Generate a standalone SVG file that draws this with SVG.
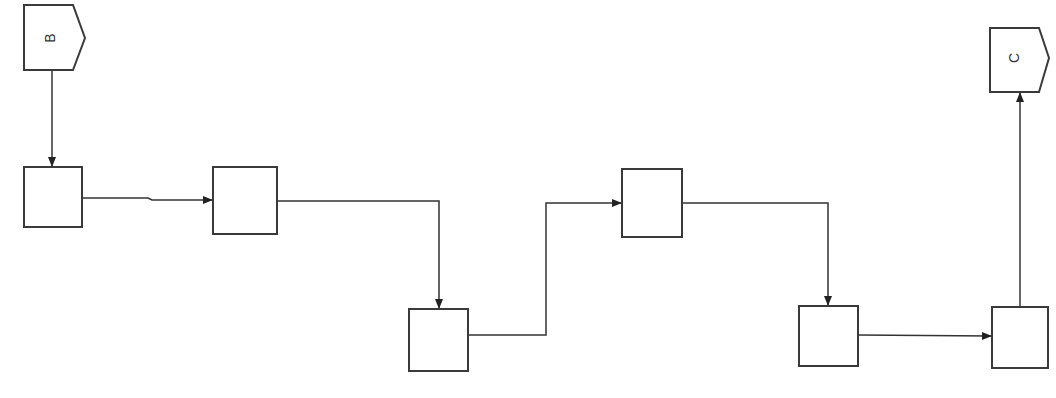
<svg xmlns="http://www.w3.org/2000/svg" width="1056" height="398" viewBox="0 0 1056 398">
<style>
.box{fill:#fff;stroke:#3a3a3a;stroke-width:2}
.ln{fill:none;stroke:#333;stroke-width:1.5}
.lbl{font-family:"Liberation Sans",Arial,sans-serif;font-size:14px;fill:#333}
</style>
<defs>
<marker id="ah" markerWidth="10" markerHeight="10" refX="9" refY="5" orient="auto" markerUnits="userSpaceOnUse">
<path d="M0,1 L10,5 L0,9 Z" fill="#222"/>
</marker>
</defs>
<rect width="1056" height="398" fill="#fff"/>
<g id="connectors">
<path class="ln" d="M52,70 V166" marker-end="url(#ah)"/>
<path class="ln" d="M82,198 H148 L152,200 H212" marker-end="url(#ah)"/>
<path class="ln" d="M277,201 H439 V308" marker-end="url(#ah)"/>
<path class="ln" d="M468,335 H546 V203 H621" marker-end="url(#ah)"/>
<path class="ln" d="M682,203 H828 V305" marker-end="url(#ah)"/>
<path class="ln" d="M858,335 L991,336" marker-end="url(#ah)"/>
<path class="ln" d="M1020,307 V93" marker-end="url(#ah)"/>
</g>
<g id="B">
<path class="box" d="M24,5 H73 L85,38 L73,70 H24 Z"/>
<text class="lbl" x="0" y="0" text-anchor="middle" transform="translate(50,38) rotate(-90) translate(0,5)">B</text>
</g>
<g id="n1"><rect class="box" x="24" y="167" width="58" height="60"/></g>
<g id="n2"><rect class="box" x="213" y="167" width="64" height="67"/></g>
<g id="n3"><rect class="box" x="409" y="309" width="59" height="62"/></g>
<g id="n4"><rect class="box" x="622" y="169" width="60" height="68"/></g>
<g id="n5"><rect class="box" x="799" y="306" width="59" height="60"/></g>
<g id="n6"><rect class="box" x="992" y="307" width="56" height="61"/></g>
<g id="C">
<path class="box" d="M990,28 H1039 L1049,58 L1039,92 H990 Z"/>
<text class="lbl" x="0" y="0" text-anchor="middle" transform="translate(1014,58) rotate(-90) translate(0,5)">C</text>
</g>
</svg>
